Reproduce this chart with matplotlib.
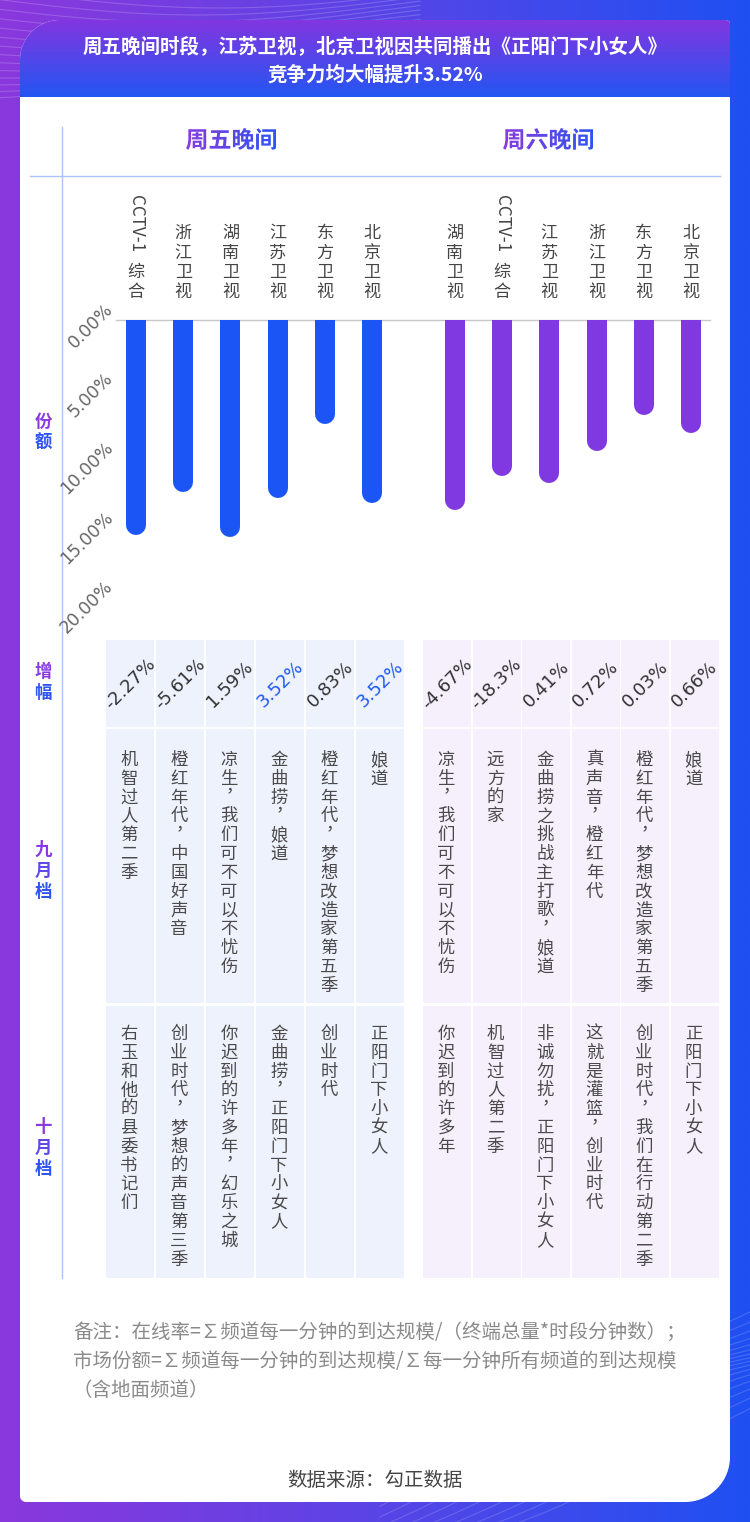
import numpy as np
import matplotlib
matplotlib.use('Agg')
import matplotlib.pyplot as plt
from matplotlib.patches import Rectangle, PathPatch, Polygon
from matplotlib.textpath import TextPath
from matplotlib.font_manager import FontProperties
import matplotlib.transforms as mtransforms
from matplotlib.colors import LinearSegmentedColormap, to_rgb

plt.rcParams['font.family'] = ['Noto Sans CJK SC', 'DejaVu Sans']

# ---------------- data ----------------
title_lines = ['周五晚间时段，江苏卫视，北京卫视因共同播出《正阳门下小女人》',
               '竞争力均大幅提升3.52%']
groups = ['周五晚间', '周六晚间']
fri_channels = ['CCTV-1综合', '浙江卫视', '湖南卫视', '江苏卫视', '东方卫视', '北京卫视']
sat_channels = ['湖南卫视', 'CCTV-1综合', '江苏卫视', '浙江卫视', '东方卫视', '北京卫视']
fri_share = [15.5, 12.4, 15.6, 12.8, 7.5, 13.2]
sat_share = [13.7, 11.2, 11.7, 9.4, 6.8, 8.1]
share_ticks = [0, 5, 10, 15, 20]
share_tick_labels = ['0.00%', '5.00%', '10.00%', '15.00%', '20.00%']
fri_growth = ['-2.27%', '-5.61%', '1.59%', '3.52%', '0.83%', '3.52%']
sat_growth = ['-4.67%', '-18.3%', '0.41%', '0.72%', '0.03%', '0.66%']
fri_highlight = [False, False, False, True, False, True]
sat_highlight = [False] * 6
fri_sept = ['机智过人第二季', '橙红年代，中国好声音', '凉生，我们可不可以不忧伤',
            '金曲捞，娘道', '橙红年代，梦想改造家第五季', '娘道']
sat_sept = ['凉生，我们可不可以不忧伤', '远方的家', '金曲捞之挑战主打歌，娘道',
            '真声音，橙红年代', '橙红年代，梦想改造家第五季', '娘道']
fri_oct = ['右玉和他的县委书记们', '创业时代，梦想的声音第三季', '你迟到的许多年，幻乐之城',
           '金曲捞，正阳门下小女人', '创业时代', '正阳门下小女人']
sat_oct = ['你迟到的许多年', '机智过人第二季', '非诚勿扰，正阳门下小女人',
           '这就是灌篮，创业时代', '创业时代，我们在行动第二季', '正阳门下小女人']
row_labels = ['份额', '增幅', '九月档', '十月档']
note_lines = ['备注：在线率=∑频道每一分钟的到达规模/（终端总量*时段分钟数）；',
              '市场份额=∑频道每一分钟的到达规模/∑每一分钟所有频道的到达规模',
              '（含地面频道）']
source_text = '数据来源：勾正数据'

# ---------------- style ----------------
W, H = 750, 1522
PURPLE = '#8a38dc'
BLUE = '#1f50f2'
FRI_BAR = '#1b55f5'
SAT_BAR = '#8038e0'
FRI_CELL = '#eef2fd'
SAT_CELL = '#f5f0fc'
LINE = '#aac4f5'

fig = plt.figure(figsize=(W / 100, H / 100), dpi=100)
ax = fig.add_axes([0, 0, 1, 1])
ax.set_xlim(0, W)
ax.set_ylim(H, 0)
ax.axis('off')


def lerp_color(c1, c2, t):
    a, b = np.array(to_rgb(c1)), np.array(to_rgb(c2))
    return tuple(a + (b - a) * t)


# background gradient
bg_cmap = LinearSegmentedColormap.from_list('bg', [PURPLE, '#5a44e6', BLUE])
ax.imshow(np.linspace(0, 1, 256).reshape(1, -1), cmap=bg_cmap, extent=[0, W, H, 0],
          aspect='auto', interpolation='bilinear', zorder=0)

# decorative wave lines
t = np.linspace(0, 1, 200)
for i in range(14):
    xs = t * 420
    ys = -10 + i * 7 + 18 * np.sin(t * 3.0 + i * 0.15)
    ax.plot(xs, ys, color='white', alpha=0.18, lw=0.8, zorder=1)
for i in range(16):
    xs = 380 + t * 370
    ys = 1560 - i * 8 - 140 * t + 15 * np.sin(t * 4 + i * 0.3)
    ax.plot(xs, ys, color='white', alpha=0.16, lw=0.8, zorder=1)


def rounded_path(x0, y0, x1, y1, rtl, rtr, rbr, rbl, n=30):
    pts = []

    def arc(cx, cy, r, a0, a1):
        for a in np.linspace(np.radians(a0), np.radians(a1), n):
            pts.append((cx + r * np.cos(a), cy + r * np.sin(a)))
    arc(x0 + rtl, y0 + rtl, rtl, 180, 270)
    arc(x1 - rtr, y0 + rtr, rtr, 270, 360)
    arc(x1 - rbr, y1 - rbr, rbr, 0, 90)
    arc(x0 + rbl, y1 - rbl, rbl, 90, 180)
    return np.array(pts)


card_pts = rounded_path(20, 20, 730, 1502, 40, 4, 45, 6)
card = Polygon(card_pts, closed=True, facecolor='white', edgecolor='none', zorder=2)
ax.add_patch(card)

# header gradient (vertical purple -> blue)
hdr_cmap = LinearSegmentedColormap.from_list('hdr', ['#8236e0', '#2356f2'])
im = ax.imshow(np.linspace(0, 1, 256).reshape(-1, 1), cmap=hdr_cmap,
               extent=[20, 730, 97, 20], aspect='auto', interpolation='bilinear', zorder=3)
im.set_clip_path(card)

for k, line in enumerate(title_lines):
    ax.text(375, 46 + k * 29, line, color='white', fontsize=14, fontweight='bold',
            ha='center', va='center', zorder=4)


def gradient_text(s, cx, cy, size, c1, c2):
    fp = FontProperties(family='Noto Sans CJK SC', weight='bold')
    tp = TextPath((0, 0), s, size=size, prop=fp)
    bb = tp.get_extents()
    tr = (mtransforms.Affine2D().translate(-(bb.x0 + bb.x1) / 2, -(bb.y0 + bb.y1) / 2)
          .scale(1, -1).translate(cx, cy))
    path = tr.transform_path(tp)
    patch = PathPatch(path, facecolor='none', edgecolor='none', transform=ax.transData)
    ax.add_patch(patch)
    cm = LinearSegmentedColormap.from_list('g', [c1, c2])
    w, h = bb.width, bb.height
    gi = ax.imshow(np.linspace(0, 1, 256).reshape(1, -1), cmap=cm,
                   extent=[cx - w / 2 - 1, cx + w / 2 + 1, cy + h / 2 + 1, cy - h / 2 - 1],
                   aspect='auto', interpolation='bilinear', zorder=6)
    gi.set_clip_path(patch)


gradient_text(groups[0], 231, 139, 23, '#8a3adf', '#2a55f2')
gradient_text(groups[1], 548, 139, 23, '#8a3adf', '#2a55f2')

# grid lines
ax.plot([62, 62], [127, 1278], color=LINE, lw=1, zorder=4)
ax.plot([30, 720], [176, 176], color=LINE, lw=1, zorder=4)

# row labels
row_label_pos = [(43, 422), (43, 672), (43, 850), (43, 1127)]
for lab, (x, y) in zip(row_labels, row_label_pos):
    n = len(lab)
    for i, ch in enumerate(lab):
        c = lerp_color('#8a3adf', '#2f55f0', i / max(n - 1, 1))
        ax.text(x, y + i * 21, ch, color=c, fontsize=12.5, fontweight='bold',
                ha='center', va='center', zorder=5)

# ---------------- bar axes ----------------
top_px, bot_px, left_px, right_px = 320, 598, 116, 710
axb = fig.add_axes([left_px / W, 1 - bot_px / H, (right_px - left_px) / W, (bot_px - top_px) / H])
axb.set_ylim(20, 0)
sat_offset = 6.75
fri_x = np.arange(len(fri_channels))
sat_x = np.arange(len(sat_channels)) + sat_offset
pitch = 555 / 11.75
axb.set_xlim(-(136 - left_px) / pitch, 11.75 + (right_px - 691) / pitch)
axb.axis('off')

bar_px = 20
r_data = 20 * (bar_px / 2) / (bot_px - top_px)
for xs, vals, col in [(fri_x, fri_share, FRI_BAR), (sat_x, sat_share, SAT_BAR)]:
    for x, v in zip(xs, vals):
        axb.plot([x, x], [0, v - r_data], color=col, lw=bar_px * 0.72,
                 solid_capstyle='round', zorder=3)
axb.axhline(0, color='#c8c8c8', lw=1, clip_on=False, zorder=2)

# y tick labels (rotated)
tick_tr = mtransforms.blended_transform_factory(ax.transData, axb.transData) + \
    mtransforms.ScaledTranslation(0, 14 / 100, fig.dpi_scale_trans)
for tv, tl in zip(share_ticks, share_tick_labels):
    fig.text(110, tv, tl, transform=tick_tr, rotation=45, rotation_mode='anchor',
             ha='right', va='center', fontsize=12.5, color='#666666',
             family=['DejaVu Sans'])

# channel labels
lab_tr = mtransforms.blended_transform_factory(axb.transData, ax.transData)


def channel_label(x, name):
    if name.startswith('CCTV-1'):
        latin, cjk = 'CCTV-1', name[len('CCTV-1'):]
        for i, ch in enumerate(reversed(cjk)):
            ax.text(x, 292 - i * 20, ch, transform=lab_tr, fontsize=12.3, color='#444444',
                    ha='center', va='center', zorder=5)
        ax.text(x, 224, latin, transform=lab_tr, rotation=-90, fontsize=12.3, color='#444444',
                ha='center', va='center', zorder=5, rotation_mode='anchor')
    else:
        for i, ch in enumerate(reversed(name)):
            ax.text(x, 292 - i * 19.6, ch, transform=lab_tr, fontsize=12.3, color='#444444',
                    ha='center', va='center', zorder=5)


for x, n in zip(fri_x, fri_channels):
    channel_label(x, n)
for x, n in zip(sat_x, sat_channels):
    channel_label(x, n)

# ---------------- table ----------------
rows = [(640, 727), (729, 1003), (1006, 1278)]
fri_cells_x = [106 + 50 * i for i in range(6)]
sat_cells_x = [423 + 49.5 * i for i in range(6)]
cell_w = 48


def vtext(cx, ytop, s, pitch=18.8):
    for i, ch in enumerate(s):
        dx = 0
        if ch == '，':
            ch = '︐'
            dx = -4
        ax.text(cx + dx, ytop + i * pitch, ch, fontsize=12.5, color='#4a4a4a',
                ha='center', va='center', zorder=5)


for xs0, fill, growth, hl, sept, octo in [
        (fri_cells_x, FRI_CELL, fri_growth, fri_highlight, fri_sept, fri_oct),
        (sat_cells_x, SAT_CELL, sat_growth, sat_highlight, sat_sept, sat_oct)]:
    for i, x0 in enumerate(xs0):
        for (y0, y1) in rows:
            ax.add_patch(Rectangle((x0, y0), cell_w, y1 - y0, facecolor=fill,
                                   edgecolor='none', zorder=3))
        cx = x0 + cell_w / 2
        ax.text(cx, 684, growth[i], rotation=45, rotation_mode='anchor', ha='center',
                va='center', fontsize=13, color='#1f5af0' if hl[i] else '#333333',
                family=['DejaVu Sans'], zorder=5)
        vtext(cx - 1, rows[1][0] + 31, sept[i])
        vtext(cx - 1, rows[2][0] + 28, octo[i])

# notes
for k, line in enumerate(note_lines):
    ax.text(73, 1332 + k * 29.5, line, fontsize=14, color='#8a8a8a', ha='left',
            va='center', zorder=5)
ax.text(375, 1481, source_text, fontsize=14, color='#444444', ha='center', va='center', zorder=5)

ax.set_xlim(0, W)
ax.set_ylim(H, 0)
fig.savefig('out.png', dpi=100)
